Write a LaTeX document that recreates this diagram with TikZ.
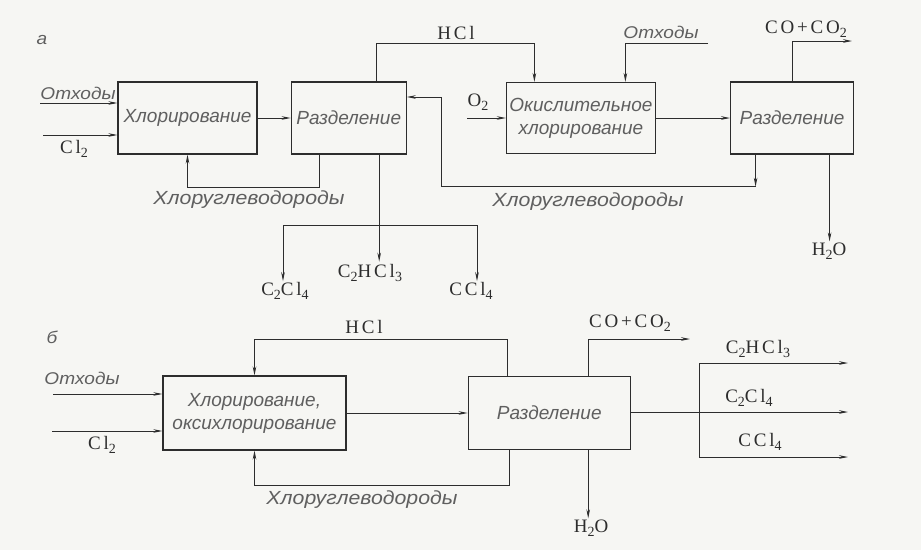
\documentclass[tikz,border=0pt]{standalone}
\usepackage{fontspec}
\setmainfont{Liberation Serif}
\newfontfamily\rusfont{Liberation Sans}
\newfontfamily\ruswide[FakeStretch=1.12]{Liberation Sans}
\newfontfamily\chemfont[LetterSpace=15]{Liberation Serif}
\newcommand\chsub[1]{\raisebox{-0.5ex}{\fontsize{14}{14}\selectfont #1}}
\usetikzlibrary{positioning,arrows.meta}
\definecolor{inkgray}{RGB}{45,45,45}
\definecolor{txtgray}{RGB}{95,95,95}
\definecolor{paper}{RGB}{246,246,243}

\begin{document}
\begin{tikzpicture}[x=1pt, y=-1pt,
    box/.style={draw=inkgray, line width=1.2pt, inner sep=2pt, align=center,
                font=\rusfont\itshape\fontsize{19}{23}\selectfont, text=txtgray},
    lbl/.style={font=\ruswide\itshape\fontsize{17}{20}\selectfont, text=txtgray, inner sep=1pt},
    reclbl/.style={font=\ruswide\itshape\fontsize{19}{22}\selectfont, text=txtgray, inner sep=1pt},
    chem/.style={font=\chemfont\fontsize{19}{21}\selectfont, text=inkgray, inner sep=1pt},
    arr/.style={-{Stealth[length=9pt,width=3.6pt]}, draw=inkgray, line width=0.9pt},
    ln/.style={draw=inkgray, line width=0.9pt}
]
\path[use as bounding box, fill=paper] (0,0) rectangle (921,550);

\node[box, minimum width=139, minimum height=72] (chl) at (187.5,118) {Хлорирование};
\node[box, minimum width=115, minimum height=72, right=33pt of chl] (raz1) {Разделение};
\node[box, minimum width=149, minimum height=71, right=99pt of raz1] (oxy) {Окислительное\\хлорирование};
\node[box, minimum width=123, minimum height=72, right=74pt of oxy] (raz2) {Разделение};
\node[box, minimum width=183, minimum height=74] (chl2) at (254.5,413) {Хлорирование,\\оксихлорирование};
\node[box, minimum width=162, minimum height=73, right=121pt of chl2] (raz3) {Разделение};

\node[lbl] (tag1) at (42,40) {а};
\node[lbl] (tag2) at (52,337) {б};

\coordinate (wst1) at (40,103);
\coordinate (cla) at (43,135);
\draw[arr] (wst1) -- (wst1 -| chl.west);
\draw[arr] (cla) -- (cla -| chl.west);
\node[lbl] (lwst1) at (78,93) {Отходы};
\node[chem] (lcla) at (74,149) {Cl\chsub{2}};
\draw[arr] (chl) -- (raz1);
\draw[arr] ([xshift=-29.5pt]raz1.south) -- ++(0,33) -| (chl.south);
\node[reclbl] (lrec1) at (249,200) {Хлоруглеводороды};

\node[chem] (pa) at (285,291) {C\chsub{2}Cl\chsub{4}};
\node[chem] (pb) at (370,273) {C\chsub{2}HCl\chsub{3}};
\node[chem] (pc) at (471,291) {CCl\chsub{4}};
\draw[ln] ([xshift=30.5pt]raz1.south) -- ++(0,71) coordinate (fork);
\draw[arr] (fork) -- ++(0,36);
\draw[arr] (fork) -| ([xshift=-2pt]pa.north);
\draw[arr] (fork) -| ([xshift=6pt]pc.north);

\draw[arr] ([xshift=27.5pt]raz1.north) -- ++(0,-38) -| ([xshift=-46.5pt]oxy.north);
\node[chem] (lhcl1) at (456,33) {HCl};
\coordinate (o2in) at (467,118);
\draw[arr] (o2in) -- (o2in -| oxy.west);
\node[chem] (lo2) at (478,102) {O\chsub{2}};
\coordinate (wst2) at (708,43);
\draw[arr] (wst2) -| ([xshift=44.5pt]oxy.north);
\node[lbl] (lwst2) at (661,32) {Отходы};
\draw[arr] (oxy) -- (raz2);

\coordinate (coa) at (852,41);
\draw[arr] ([xshift=0.5pt]raz2.north) |- (coa);
\node[chem] (lcoa) at (806,29) {CO+CO\chsub{2}};
\node[chem] (lh2oa) at (829,251) {H\chsub{2}O};
\path ([xshift=37.5pt]raz2.south) coordinate (h2oa);
\draw[arr] (h2oa) -- (h2oa |- lh2oa.north);
\draw[arr] ([xshift=-36.5pt]raz2.south) -- ++(0,32) coordinate (ret);
\draw[arr] (ret) -- ++(-314,0) |- ([yshift=21pt]raz1.east);
\node[reclbl] (lrec2) at (588,202) {Хлоруглеводороды};

\coordinate (wst3) at (53,394);
\coordinate (clb) at (52,431);
\draw[arr] (wst3) -- (wst3 -| chl2.west);
\draw[arr] (clb) -- (clb -| chl2.west);
\node[lbl] (lwst3) at (82,378) {Отходы};
\node[chem] (lclb) at (102,445) {Cl\chsub{2}};
\draw[arr] (chl2) -- (raz3);
\draw[arr] ([xshift=-42pt]raz3.north) -- ++(0,-36) -| (chl2.north);
\node[chem] (lhcl2) at (364,327) {HCl};
\draw[arr] ([xshift=-40pt]raz3.south) -- ++(0,35) -| (chl2.south);
\node[reclbl] (lrec3) at (362,500) {Хлоруглеводороды};

\coordinate (cob) at (690,339);
\draw[arr] ([xshift=39pt]raz3.north) |- (cob);
\node[chem] (lcob) at (630,323) {CO+CO\chsub{2}};
\node[chem] (lh2ob) at (591,528) {H\chsub{2}O};
\path ([xshift=39pt]raz3.south) coordinate (h2ob);
\draw[arr] (h2ob) -- (h2ob |- lh2ob.north);

\coordinate (bus) at (699,412);
\coordinate (outa) at (848,363);
\coordinate (outb) at (848,412);
\coordinate (outc) at (848,457);
\draw[arr] (raz3.east |- outb) -- (outb);
\draw[arr] (bus) |- (outa);
\draw[arr] (bus) |- (outc);
\node[chem] (lpa) at (758,349) {C\chsub{2}HCl\chsub{3}};
\node[chem] (lpb) at (749,398) {C\chsub{2}Cl\chsub{4}};
\node[chem] (lpc) at (760,442) {CCl\chsub{4}};
\end{tikzpicture}
\end{document}
